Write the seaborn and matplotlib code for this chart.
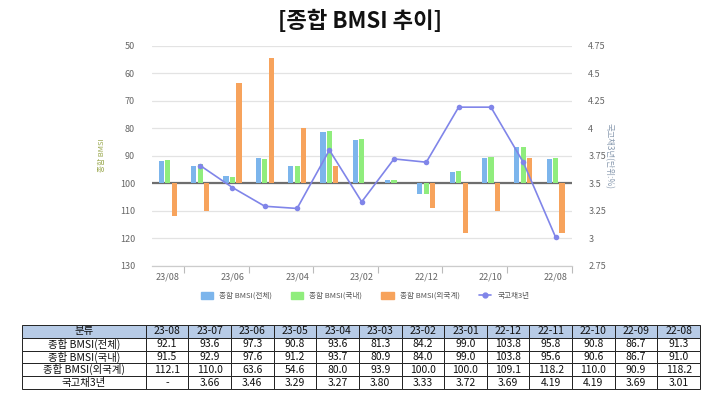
import matplotlib
matplotlib.use("Agg")
import matplotlib.pyplot as plt
import seaborn as sns
import numpy as np
import pandas as pd
from matplotlib.patches import Patch
from matplotlib.lines import Line2D

# ---- data ----
periods = ["23-08", "23-07", "23-06", "23-05", "23-04", "23-03", "23-02",
           "23-01", "22-12", "22-11", "22-10", "22-09", "22-08"]
bmsi_total = [92.1, 93.6, 97.3, 90.8, 93.6, 81.3, 84.2, 99.0, 103.8, 95.8, 90.8, 86.7, 91.3]
bmsi_domestic = [91.5, 92.9, 97.6, 91.2, 93.7, 80.9, 84.0, 99.0, 103.8, 95.6, 90.6, 86.7, 91.0]
bmsi_foreign = [112.1, 110.0, 63.6, 54.6, 80.0, 93.9, 100.0, 100.0, 109.1, 118.2, 110.0, 90.9, 118.2]
bond_3y = [None, 3.66, 3.46, 3.29, 3.27, 3.80, 3.33, 3.72, 3.69, 4.19, 4.19, 3.69, 3.01]
series_names = ["종합 BMSI(전체)", "종합 BMSI(국내)", "종합 BMSI(외국계)", "국고채3년"]
left_ticks = [50, 60, 70, 80, 90, 100, 110, 120, 130]
right_ticks = [2.75, 3, 3.25, 3.5, 3.75, 4, 4.25, 4.5, 4.75]

sns.set_theme(style="white")
plt.rcParams["font.family"] = ["Noto Sans CJK KR", "DejaVu Sans"]

colors = ["#7cb5ec", "#90ed7d", "#f7a35c"]
line_color = "#8085e9"

fig = plt.figure(figsize=(7.2, 4.0), dpi=100)
ax = fig.add_axes([151.7 / 720, 1 - 265.7 / 400, 420 / 720, 220.2 / 400])

x = np.arange(len(periods))
width = 0.16
offsets = [-0.2, 0.0, 0.2]
for vals, off, c in zip([bmsi_total, bmsi_domestic, bmsi_foreign], offsets, colors):
    v = np.array(vals)
    ax.bar(x + off, v - 100, bottom=100, width=width, color=c, zorder=3, linewidth=0)

ax.axhline(100, color="#6e6e6e", lw=1.6, zorder=2)
ax.set_ylim(130, 50)
ax.set_yticks(left_ticks)
ax.set_yticklabels([str(t) for t in left_ticks])
ax.set_xlim(-0.5, len(periods) - 0.5)
ax.set_xticks(x[::2])
ax.set_xticklabels([p.replace("-", "/") for p in periods[::2]])
ax.set_xticks(np.arange(0.5, len(periods), 2), minor=True)
ax.tick_params(axis="x", which="major", length=0, labelsize=6.5, colors="#666666", pad=5)
ax.tick_params(axis="x", which="minor", length=5, width=0.8, color="#bbbbbb", bottom=True)
ax.tick_params(axis="y", length=0, labelsize=6.5, colors="#666666", pad=12)
ax.grid(axis="y", color="#e3e3e3", lw=0.9, zorder=0)
for s in ["left", "right", "top"]:
    ax.spines[s].set_visible(False)
ax.spines["bottom"].set_color("#cccccc")
ax.spines["bottom"].set_linewidth(0.9)
ax.set_ylabel("종합 BMSI", fontsize=5.5, color="#9aa84e", labelpad=10)

ax2 = ax.twinx()
df = pd.DataFrame({"x": x, "bond": pd.array(bond_3y, dtype="Float64")}).dropna()
df["bond"] = df["bond"].astype(float)
sns.lineplot(data=df, x="x", y="bond", ax=ax2, color=line_color, lw=1.2,
             marker="o", markersize=4, markeredgewidth=0, zorder=5)
ax2.set_ylim(2.75, 4.75)
ax2.set_yticks(right_ticks)
ax2.set_yticklabels([f"{t:g}" for t in right_ticks])
ax2.tick_params(axis="y", length=0, labelsize=6.5, colors="#666666", pad=12)
for s in ax2.spines.values():
    s.set_visible(False)
ax2.set_xlabel("")
ax2.set_ylabel("국고채3년(단위:%)", fontsize=6, color="#8a9bb0", rotation=270,
               va="center", ha="center")
ax2.yaxis.set_label_coords((609 - 151.7) / 420, 0.5)
ax2.grid(False)
ax2.set_xlim(-0.5, len(periods) - 0.5)

fig.text(0.5, 1 - 21 / 400, "[종합 BMSI 추이]", ha="center", va="center",
         fontsize=16, fontweight="bold", color="#111111")

handles = [Patch(color=c) for c in colors] + [
    Line2D([0], [0], color=line_color, lw=1.2, marker="o", markersize=3.5)]
fig.legend(handles, series_names, loc="center", bbox_to_anchor=(365 / 720, 1 - 296 / 400),
           ncol=4, frameon=False, fontsize=5.5, handlelength=1.6, handleheight=0.9,
           columnspacing=2.5, labelcolor="#555555")

# ---- table ----
tax = fig.add_axes([22.3 / 720, 1 - 389 / 400, 677.7 / 720, 64 / 400])
tax.axis("off")
rows = [
    [series_names[0]] + [f"{v:.1f}" for v in bmsi_total],
    [series_names[1]] + [f"{v:.1f}" for v in bmsi_domestic],
    [series_names[2]] + [f"{v:.1f}" for v in bmsi_foreign],
    [series_names[3]] + ["-" if v is None else f"{v:.2f}" for v in bond_3y],
]
header = ["분류"] + periods
first_w = 123.4 / 677.7
other_w = (1 - first_w) / len(periods)
tbl = tax.table(cellText=rows, colLabels=header, bbox=[0, 0, 1, 1],
                colWidths=[first_w] + [other_w] * len(periods), cellLoc="center")
tbl.auto_set_font_size(False)
tbl.set_fontsize(7.5)
for (r, c), cell in tbl.get_celld().items():
    cell.set_edgecolor("#222222")
    cell.set_linewidth(0.7)
    cell.PAD = 0.02
    if r == 0:
        cell.set_facecolor("#b7cbe6")
    cell.get_text().set_color("#111111")

fig.savefig("out.png", dpi=100)
